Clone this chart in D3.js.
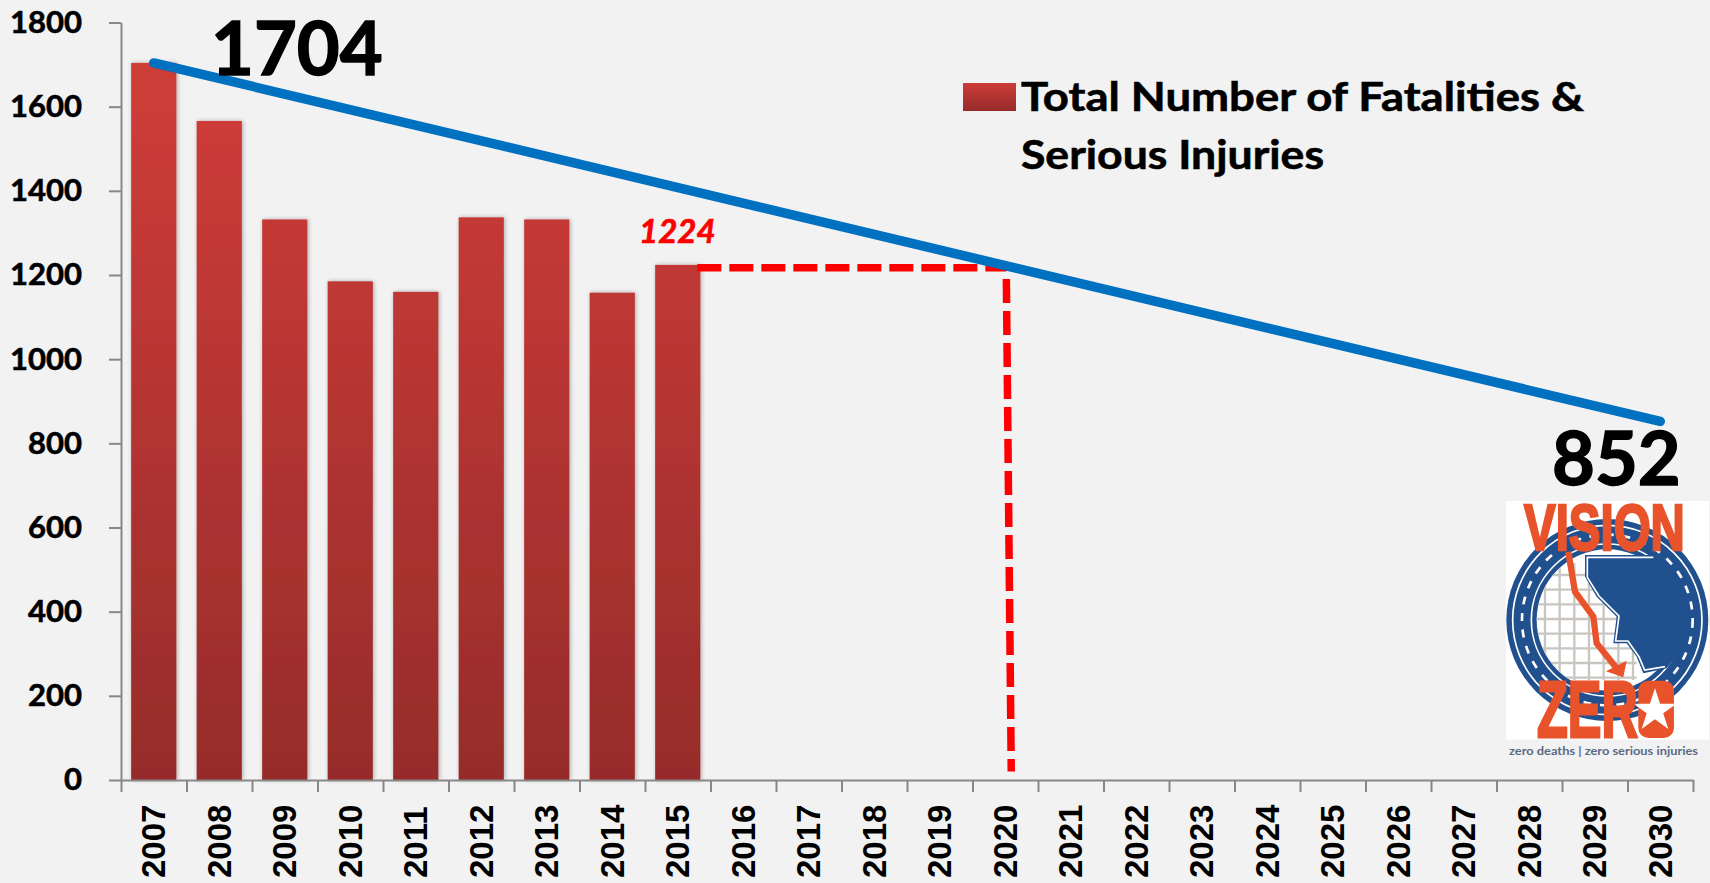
<!DOCTYPE html>
<html>
<head>
<meta charset="utf-8">
<script src="https://cdn.jsdelivr.net/npm/d3@7"></script>
<style>
  html, body { margin: 0; padding: 0; background: #f2f2f2; overflow: hidden; }
  svg { display: block; }
</style>
</head>
<body>
<svg id="chart" width="1710" height="883"></svg>
<script>
const years = d3.range(2007, 2031).map(String)
const barYears = ["2007", "2008", "2009", "2010", "2011", "2012", "2013", "2014", "2015"]
const barValues = [1704, 1566, 1332, 1185, 1160, 1337, 1332, 1158, 1224]
const trendYears = ["2007", "2030"]
const trendValues = [1704, 852]
const yTicks = [0, 200, 400, 600, 800, 1000, 1200, 1400, 1600, 1800]
const legendLines = ["Total Number of Fatalities &", "Serious Injuries"]
const targetYear = "2020"
const targetValue = 1217

const svg = d3.select("#chart")
const margin = { left: 121, right: 17, top: 22.5, bottom: 103 }
const width = 1710, height = 883

const x = d3.scaleBand().domain(years)
  .range([margin.left, width - margin.right])
  .paddingInner(0.31).paddingOuter(0.155)
const y = d3.scaleLinear().domain([0, 1800]).range([height - margin.bottom, margin.top])
const cx = d => x(d) + x.bandwidth() / 2

// gradient + soft shadow for the bars
const defs = svg.append("defs")
const grad = defs.append("linearGradient").attr("id", "barFill")
  .attr("gradientUnits", "userSpaceOnUse")
  .attr("x1", 0).attr("x2", 0).attr("y1", y(1600)).attr("y2", y(0))
grad.append("stop").attr("offset", "0%").attr("stop-color", "#cd3c38")
grad.append("stop").attr("offset", "100%").attr("stop-color", "#962c2b")
const legendGrad = defs.append("linearGradient").attr("id", "legendFill")
  .attr("x1", 0).attr("x2", 0).attr("y1", 0).attr("y2", 1)
legendGrad.append("stop").attr("offset", "0%").attr("stop-color", "#cd3c38")
legendGrad.append("stop").attr("offset", "100%").attr("stop-color", "#962c2b")
defs.append("filter").attr("id", "barShadow")
  .attr("x", "-20%").attr("width", "140%").attr("y", "-2%").attr("height", "104%")
  .append("feDropShadow")
  .attr("dx", 1).attr("dy", 0).attr("stdDeviation", 2.2)
  .attr("flood-color", "#000").attr("flood-opacity", 0.3)

// bars
svg.append("g").selectAll("rect")
  .data(barYears)
  .enter()
  .append("rect")
  .attr("x", d => x(d))
  .attr("y", (d, i) => y(barValues[i]))
  .attr("width", x.bandwidth())
  .attr("height", (d, i) => y(0) - y(barValues[i]))
  .attr("fill", "url(#barFill)")
  .attr("filter", "url(#barShadow)")

// axes
const yAxis = svg.append("g")
  .attr("transform", `translate(${margin.left},0)`)
  .call(d3.axisLeft(y).tickValues(yTicks).tickSize(12).tickSizeOuter(0).tickPadding(27).tickFormat(d3.format("d")))
yAxis.selectAll("text")
  .attr("font-family", "Lato").attr("font-weight", 700).attr("font-size", 31)
  .attr("fill", "#000").attr("stroke", "#000").attr("stroke-width", 0.6)

const xEdges = d3.scaleLinear().domain([0, years.length]).range(x.range())
svg.append("g")
  .attr("transform", `translate(0,${y(0)})`)
  .call(d3.axisBottom(xEdges).ticks(years.length).tickSize(12).tickSizeOuter(0).tickFormat(""))

svg.append("g")
  .selectAll("text")
  .data(years)
  .enter()
  .append("text")
  .attr("transform", d => `translate(${cx(d) + 11.5},878) rotate(-90)`)
  .attr("font-family", "Liberation Sans").attr("font-weight", 700).attr("font-size", 33)
  .attr("fill", "#000")
  .text(d => d)

svg.selectAll(".domain, .tick line").attr("stroke", "#878787").attr("stroke-width", 2)

// dashed guide from the 2015 bar over to the 2020 mark and down, the drop leans a little
svg.append("path")
  .attr("d", d3.line()([
    [x("2015") + x.bandwidth() - 3, y(targetValue)],
    [cx(targetYear) + 1, y(targetValue)],
    [cx(targetYear) + 6, y(20)]
  ]))
  .attr("fill", "none")
  .attr("stroke", "#ff0000")
  .attr("stroke-width", 7.5)
  .attr("stroke-dasharray", "24,8")

// target trend line
svg.append("path")
  .attr("d", d3.line().x(d => cx(d)).y((d, i) => y(trendValues[i]))(trendYears))
  .attr("fill", "none")
  .attr("stroke", "#0070c0")
  .attr("stroke-width", 9.5)
  .attr("stroke-linecap", "round")

// value labels
const bigLabel = (txt, px, py) => svg.append("text")
  .attr("x", px).attr("y", py)
  .attr("font-family", "Lato").attr("font-weight", 700).attr("font-size", 74)
  .attr("fill", "#000").attr("stroke", "#000").attr("stroke-width", 1.4)
  .text(txt)
bigLabel(trendValues[0], 211, 75)
bigLabel(trendValues[1], 1552, 485)

svg.append("text")
  .attr("x", 639).attr("y", 243)
  .attr("font-family", "Lato").attr("font-weight", 700).attr("font-style", "italic").attr("font-size", 33)
  .attr("fill", "#ff0000").attr("stroke", "#ff0000").attr("stroke-width", 0.7)
  .text(barValues[8])

// legend
svg.append("rect")
  .attr("x", 963).attr("y", 83).attr("width", 53).attr("height", 28)
  .attr("fill", "url(#legendFill)")
svg.append("g").selectAll("text")
  .data(legendLines)
  .enter()
  .append("text")
  .attr("x", 1021)
  .attr("y", (d, i) => 111 + i * 58)
  .attr("textLength", (d, i) => [563, 303][i])
  .attr("lengthAdjust", "spacingAndGlyphs")
  .attr("font-family", "Lato").attr("font-weight", 700).attr("font-size", 40)
  .attr("fill", "#000").attr("stroke", "#000").attr("stroke-width", 0.6)
  .text(d => d)

// Vision Zero logo, shapes use the zoomed crop's coordinates (1/3 scale)
const blue = "#21508f", orange = "#e8532b", white = "#ffffff"
const logo = svg.append("g").attr("transform", "translate(1470,480) scale(0.3333)")
const ringX = 412, ringY = 420
logo.append("rect").attr("x", 108).attr("y", 63).attr("width", 609).attr("height", 716).attr("fill", white)
logo.append("circle").attr("cx", ringX).attr("cy", ringY).attr("r", 303).attr("fill", blue)
logo.append("circle").attr("cx", ringX).attr("cy", ringY).attr("r", 284)
  .attr("fill", "none").attr("stroke", white).attr("stroke-width", 5)
logo.append("circle").attr("cx", ringX).attr("cy", ringY).attr("r", 256)
  .attr("fill", "none").attr("stroke", white).attr("stroke-width", 8).attr("stroke-dasharray", "24,26")
logo.append("circle").attr("cx", ringX).attr("cy", ringY).attr("r", 228)
  .attr("fill", "none").attr("stroke", white).attr("stroke-width", 5)
logo.append("circle").attr("cx", ringX).attr("cy", ringY).attr("r", 212).attr("fill", white)

// street grid, clipped to the inner circle
defs.append("clipPath").attr("id", "innerRing")
  .append("circle").attr("cx", ringX).attr("cy", ringY).attr("r", 212)
const gridG = logo.append("g").attr("stroke", "#c9c6c2").attr("stroke-width", 7)
  .attr("clip-path", "url(#innerRing)")
d3.range(225, 500, 44).forEach(gx => {
  gridG.append("line").attr("x1", gx).attr("x2", gx).attr("y1", 250).attr("y2", 600)
})
d3.range(285, 620, 44).forEach(gy => {
  gridG.append("line").attr("x1", 195).attr("x2", 500).attr("y1", gy).attr("y2", gy)
})

// land mass and its coast line
logo.append("path")
  .attr("d", "M345,225 L550,225 A225,225 0 0 1 590,565 L520,580 L500,530 L470,490 L430,490 L440,410 L380,350 L345,290 Z")
  .attr("fill", blue)
logo.append("path")
  .attr("d", "M550,232 L352,232 L352,292 L387,348 L447,408 L437,483 L474,483 L507,530 L524,570 L585,560")
  .attr("fill", "none").attr("stroke", white).attr("stroke-width", 5)

// route arrow
logo.append("path")
  .attr("d", "M295,215 L315,335 L370,410 L380,490 L440,565")
  .attr("fill", "none").attr("stroke", orange).attr("stroke-width", 19)
logo.append("path")
  .attr("d", "M470,542 L460,592 L408,574 Z")
  .attr("fill", orange)

// zero's O is a solid block with the star knocked out
logo.append("rect").attr("x", 505).attr("y", 602).attr("width", 107).attr("height", 172).attr("rx", 30)
  .attr("fill", orange)
logo.append("path")
  .attr("d", d3.symbol().type(d3.symbolStar).size(5200)())
  .attr("transform", "translate(555,692)")
  .attr("fill", white)

// logo lettering, placed in page pixels
const logoText = svg.append("g")
logoText.append("text")
  .attr("transform", "translate(1524,550) scale(0.73,1)")
  .attr("font-family", "Liberation Sans").attr("font-weight", 700).attr("font-size", 65)
  .attr("fill", orange).attr("stroke", orange).attr("stroke-width", 2.5)
  .text("VISION")
logoText.append("text")
  .attr("transform", "translate(1537,737) scale(0.63,1)")
  .attr("font-family", "Liberation Sans").attr("font-weight", 700).attr("font-size", 80)
  .attr("fill", orange).attr("stroke", orange).attr("stroke-width", 3)
  .text("ZER")
logoText.append("text")
  .attr("x", 1509).attr("y", 755)
  .attr("textLength", 189).attr("lengthAdjust", "spacingAndGlyphs")
  .attr("font-family", "Lato").attr("font-weight", 700).attr("font-size", 11)
  .attr("fill", "#5a6a85")
  .text("zero deaths | zero serious injuries")
</script>
</body>
</html>
